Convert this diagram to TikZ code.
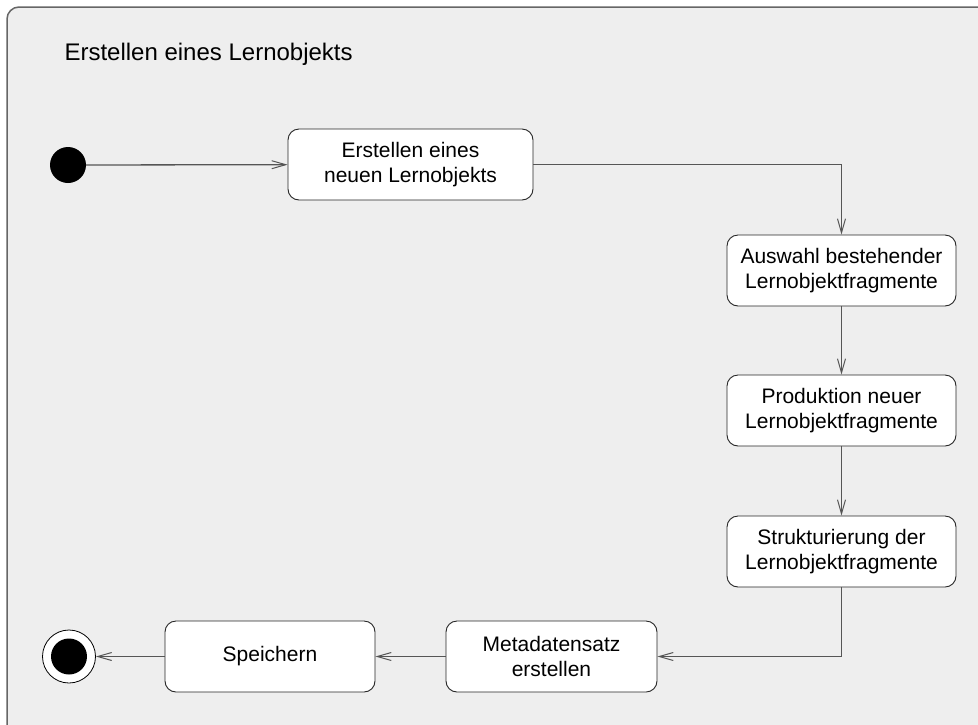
\documentclass[tikz,border=0pt]{standalone}
\usepackage{fontspec}
\setmainfont{Liberation Sans}
\usetikzlibrary{arrows.meta}
\definecolor{framefill}{HTML}{EEEEEE}
\definecolor{framedraw}{HTML}{666666}
\definecolor{linkgray}{HTML}{555555}
\begin{document}
\begin{tikzpicture}[x=1pt,y=-1pt,
  actbox/.style={draw=black!85, line width=0.9pt, fill=white, rounded corners=11pt,
    inner sep=0pt, align=center, font=\fontsize{21}{25.5}\selectfont},
  flow/.style={draw=linkgray, line width=1.3pt,
    -{Straight Barb[length=14pt,width=8pt,line width=1pt]}},
  startdot/.style={circle, fill=black, minimum size=36pt, inner sep=0pt},
  enddot/.style={circle, draw=black, line width=0.8pt, fill=white, minimum size=53pt, inner sep=0pt}
]
\useasboundingbox (0,0) rectangle (978,724);
% activity frame
\draw[framedraw, line width=1.5pt, fill=framefill, rounded corners=12pt] (7,7) rectangle (1000,750);
\node[anchor=base west, font=\fontsize{24}{28}\selectfont] (title) at (61,60) {Erstellen eines Lernobjekts};

% nodes
\node[startdot] (start) at (68,165) {};
\node[actbox, minimum width=245pt, minimum height=71pt] (neu) at (410.5,164.5) {Erstellen eines\\neuen Lernobjekts};
\node[actbox, minimum width=229pt, minimum height=71pt] (auswahl) at (841.5,270.5) {Auswahl bestehender\\Lernobjektfragmente};
\node[actbox, minimum width=229pt, minimum height=71pt] (prod) at (841.5,410.5) {Produktion neuer\\Lernobjektfragmente};
\node[actbox, minimum width=229pt, minimum height=71pt] (struk) at (841.5,551.5) {Strukturierung der\\Lernobjektfragmente};
\node[actbox, minimum width=211pt, minimum height=71pt] (meta) at (551.5,656.5) {Metadatensatz\\erstellen};
\node[actbox, minimum width=210pt, minimum height=71pt] (speich) at (270,656.5) {Speichern};
\node[enddot] (ende) at (69,656.5) {};
\node[startdot] (endekern) at (ende.center) {};

% control flow
\draw[flow] (start) -- (neu);
\draw[flow] (neu.east) -| (auswahl.north);
\draw[flow] (auswahl) -- (prod);
\draw[flow] (prod) -- (struk);
\draw[flow] (struk.south) |- (meta.east);
\draw[flow] (meta) -- (speich);
\draw[flow] (speich) -- (ende);
\end{tikzpicture}
\end{document}
